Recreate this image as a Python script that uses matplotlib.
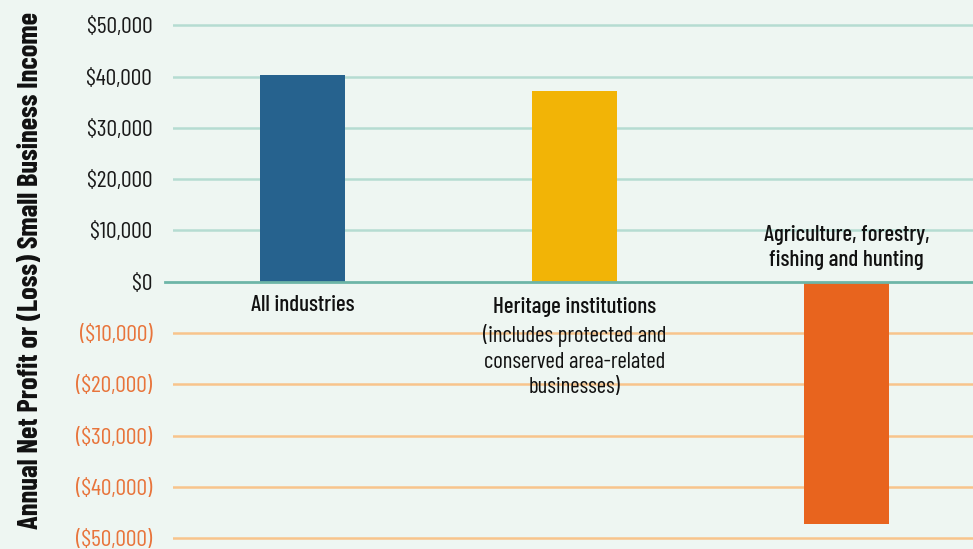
import matplotlib.pyplot as plt
from matplotlib.lines import Line2D

# data
categories = ["All industries", "Heritage institutions", "Agriculture, forestry,\nfishing and hunting"]
notes = ["", "(includes protected and\nconserved area-related\nbusinesses)", ""]
values = [40300, 37200, -47300]
bar_colors = ["#26628e", "#f2b406", "#e8641e"]
ticks = [50000, 40000, 30000, 20000, 10000, 0, -10000, -20000, -30000, -40000, -50000]
tick_labels = ["$50,000", "$40,000", "$30,000", "$20,000", "$10,000", "$0",
               "($10,000)", "($20,000)", "($30,000)", "($40,000)", "($50,000)"]

bg = "#eef6f2"
plt.rcParams['font.family'] = ['Barlow Condensed', 'DejaVu Sans']

W, H = 973, 549
fig = plt.figure(figsize=(W / 100, H / 100), dpi=100, facecolor=bg)
ax = fig.add_axes([173 / W, 0, 1 - 173 / W, 1], facecolor=bg)

x = list(range(len(values)))
ax.set_xlim(-0.476, 2.465)
ax.set_ylim(-52085, 54912)

# gridlines, teal above zero and orange below
for t in ticks:
    if t > 0:
        ax.axhline(t, color="#b5dcd2", lw=1.8, zorder=1)
    elif t < 0:
        ax.axhline(t, color="#f8c48c", lw=1.8, zorder=1)

ax.bar(x, values, width=0.3125, color=bar_colors, zorder=2)

# zero line reaches a bit past the axes on the left
zl = Line2D([-8 / (W - 173), 1], [0, 0], transform=ax.get_yaxis_transform(),
            color="#6db5a7", lw=2.0, zorder=3, clip_on=False)
ax.add_line(zl)

ax.set_yticks(ticks)
ax.set_yticklabels(tick_labels, fontsize=17)
for lab, t in zip(ax.get_yticklabels(), ticks):
    lab.set_color("#e8743b" if t < 0 else "#1a1a1a")
ax.tick_params(axis='y', length=0, pad=15)
ax.set_xticks([])
for s in ax.spines.values():
    s.set_visible(False)

# category labels
ax.text(0, -2600, categories[0], ha='center', va='top', fontsize=16.5, fontweight=500,
        color="#111111")
ax.text(1, -3000, categories[1], ha='center', va='top', fontsize=16.5, fontweight=500,
        color="#111111")
ax.text(1, -8200, notes[1], ha='center', va='top', fontsize=16.5, color="#111111",
        linespacing=1.3)
ax.text(2, 2300, categories[2], ha='center', va='bottom', fontsize=16.5, fontweight=500,
        color="#111111", linespacing=1.3)

fig.text(31 / W, 0.507, "Annual Net Profit or (Loss) Small Business Income", rotation=90,
         ha='center', va='center', fontsize=20.5, fontweight='bold', color="#111111")

fig.savefig("out.png", dpi=100, facecolor=bg)
